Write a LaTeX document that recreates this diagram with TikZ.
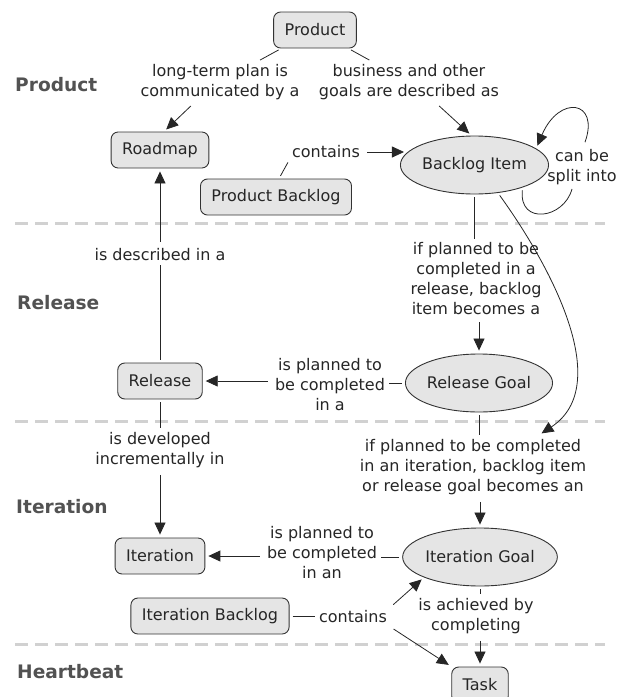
\documentclass[tikz,border=0pt]{standalone}
\usepackage{fontspec}
\setmainfont{DejaVu Sans}
\usetikzlibrary{arrows.meta,shapes.geometric}
\tikzset{
  concept/.style={draw=black!80, fill=black!10, rounded corners=7pt, line width=0.9pt,
    inner xsep=11pt, minimum height=36pt, text=black!85, font=\fontsize{16}{20}\selectfont},
  goal/.style={ellipse, draw=black!80, fill=black!10, line width=0.9pt, inner sep=0pt,
    minimum width=136pt, minimum height=58pt, text=black!85, font=\fontsize{16}{20}\selectfont},
  phrase/.style={align=center, inner sep=4pt, text=black!85, font=\fontsize{16}{20}\selectfont},
  tier/.style={anchor=west, inner sep=0pt, text=black!68, font=\bfseries\fontsize{18.6}{22}\selectfont},
  link/.style={draw=black!85, line width=0.8pt, shorten <=3pt},
  arr/.style={link, -{Triangle[length=12pt,width=11pt]}, shorten >=3pt},
  tierline/.style={draw=black!18, line width=3pt, dash pattern=on 13pt off 7pt}
}
\begin{document}
\begin{tikzpicture}[x=1pt,y=-1pt]
    \useasboundingbox (0,0) rectangle (619,697);
    \draw[tierline] (15,223)--(605,223);
    \draw[tierline] (15,421)--(605,421);
    \draw[tierline] (15,644)--(605,644);
    \node[tier](tprod) at (15,85) {Product};
    \node[tier](trel) at (17,303) {Release};
    \node[tier](titer) at (16,507) {Iteration};
    \node[tier](tbeat) at (17,672) {Heartbeat};
    \node[concept](product) at (315,30) {Product};
    \node[concept](roadmap) at (160,150) {Roadmap};
    \node[concept](pbacklog) at (276,197) {Product Backlog};
    \node[goal](bitem) at (474.5,165) {Backlog Item};
    \node[concept](release) at (160,381) {Release};
    \node[goal](rgoal) at (479,383) {Release Goal};
    \node[concept](iteration) at (160,556) {Iteration};
    \node[goal](igoal) at (480,557) {Iteration Goal};
    \node[concept](ibacklog) at (210,616) {Iteration Backlog};
    \node[concept](task) at (480,685) {Task};
    \node[phrase](lplan) at (220,82) {long-term plan is\\communicated by a};
    \node[phrase](lgoals) at (409,82) {business and other\\goals are described as};
    \node[phrase](lcont1) at (326,152) {contains};
    \node[phrase](lsplit) at (582,167) {can be\\split into};
    \node[phrase](ldescr) at (160,255) {is described in a};
    \node[phrase](lbecome1) at (476,279) {if planned to be\\completed in a\\release, backlog\\item becomes a};
    \node[phrase](lplanned1) at (330,385) {is planned to\\be completed\\in a};
    \node[phrase](ldevel) at (160,450) {is developed\\incrementally in};
    \node[phrase](lbecome2) at (473,467) {if planned to be completed\\in an iteration, backlog item\\or release goal becomes an};
    \node[phrase](lplanned2) at (322,553) {is planned to\\be completed\\in an};
    \node[phrase](lcont2) at (353,617) {contains};
    \node[phrase](lachieve) at (476,616) {is achieved by\\completing};
    \draw[link] (product)--(lplan);
    \draw[arr] ([xshift=-27pt]lplan.south)--([xshift=4pt]roadmap.north);
    \draw[link] (product)--(lgoals);
    \draw[arr] ([xshift=28pt]lgoals.south)--([xshift=-3pt]bitem.north);
    \draw[link] ([xshift=3pt]pbacklog.north)--(lcont1.south west);
    \draw[arr,shorten >=-4pt] (lcont1.east)--(lcont1.east -| bitem.west);
    \draw[link] (bitem.-25) .. controls +(-4,38) and +(-8,30) .. ([xshift=-10pt]lsplit.south);
    \draw[arr] ([xshift=2pt]lsplit.north) .. controls +(16,-45) and +(23,-54) .. (bitem.15);
    \draw[link] (bitem.south)--(bitem.south |- lbecome1.north);
    \draw[arr] (lbecome1.south -| rgoal.north)--(rgoal.north);
    \draw[link] (rgoal.west)--(rgoal.west -| lplanned1.east);
    \draw[arr] (lplanned1.west |- release.east)--(release.east);
    \draw[arr] (bitem.-50) .. controls (550,265) and (615,385) .. ([xshift=66pt]lbecome2.north);
    \draw[link] (rgoal.south)--(rgoal.south |- lbecome2.north);
    \draw[arr] (lbecome2.south -| igoal.north)--(igoal.north);
    \draw[link] (release.north)--(ldescr.south);
    \draw[arr] (ldescr.north)--(roadmap.south);
    \draw[link] (release.south)--(ldevel.north);
    \draw[arr] (ldevel.south)--(iteration.north);
    \draw[link] (igoal.west)--(igoal.west -| lplanned2.east);
    \draw[arr] (lplanned2.west |- iteration.east)--(iteration.east);
    \draw[link] (ibacklog.east)--(ibacklog.east -| lcont2.west);
    \draw[arr] (lcont2.north east)--(igoal.200);
    \draw[arr] (lcont2.south east)--(task.north west);
    \draw[link] (igoal.south)--(igoal.south |- lachieve.north);
    \draw[arr] (lachieve.south -| task.north)--(task.north);
\end{tikzpicture}
\end{document}
